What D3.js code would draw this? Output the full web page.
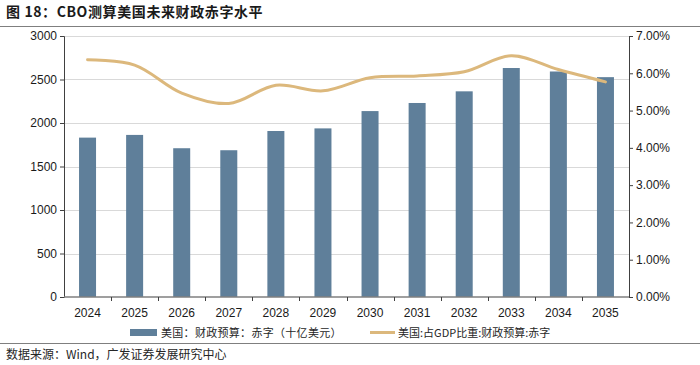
<!DOCTYPE html>
<html><head><meta charset="utf-8">
<script src="https://cdn.jsdelivr.net/npm/d3@7"></script>
<style>
html,body{margin:0;padding:0;background:#fff;}
svg{display:block;}
</style></head>
<body>
<svg id="chart" width="700" height="365"></svg>
<script>
const categories = ["2024","2025","2026","2027","2028","2029","2030","2031","2032","2033","2034","2035"];
const deficitValues = [1832, 1863, 1710, 1687, 1908, 1938, 2137, 2230, 2364, 2632, 2592, 2527];
const gdpShareValues = [6.36, 6.22, 5.47, 5.19, 5.68, 5.53, 5.88, 5.93, 6.04, 6.47, 6.10, 5.77];
const leftTicks = [0, 500, 1000, 1500, 2000, 2500, 3000];
const rightTicks = [0, 1, 2, 3, 4, 5, 6, 7];
const titleText = "图 18：CBO测算美国未来财政赤字水平";
const legendLabels = ["美国：财政预算：赤字（十亿美元）", "美国:占GDP比重:财政预算:赤字"];
const sourceText = "数据来源：Wind，广发证券发展研究中心";

const svg = d3.select("#chart");
const W = 700, H = 365;
const m = {left: 64, right: 71, top: 36, bottom: 68};
const x0 = m.left, x1 = W - m.right, yTop = m.top, yBot = H - m.bottom;

const cjk = "'Noto Sans CJK SC', 'Noto Sans', sans-serif";
const latin = "'Liberation Sans', Arial, sans-serif";

// Title
svg.append("text").attr("x", 6).attr("y", 17)
  .attr("font-family", cjk).attr("font-weight", "bold").attr("font-size", 14)
  .attr("letter-spacing", 0.6)
  .attr("fill", "#1a1a1a").text(titleText);
svg.append("line").attr("x1", 0).attr("x2", W).attr("y1", 26.5).attr("y2", 26.5)
  .attr("stroke", "#7f7f7f").attr("stroke-width", 1);

const x = d3.scaleBand().domain(categories).range([x0, x1]).paddingInner(0).paddingOuter(0);
const yL = d3.scaleLinear().domain([0, 3000]).range([yBot, yTop]);
const yR = d3.scaleLinear().domain([0, 7]).range([yBot, yTop]);

// gridlines
svg.append("g").selectAll("line").data(leftTicks.filter(d => d > 0)).join("line")
  .attr("x1", x0).attr("x2", x1)
  .attr("y1", d => Math.round(yL(d)) + 0.5).attr("y2", d => Math.round(yL(d)) + 0.5)
  .attr("stroke", "#d9d9d9").attr("stroke-width", 1);

// bars
const bw = 17;
svg.append("g").selectAll("rect").data(categories).join("rect")
  .attr("x", d => x(d) + x.bandwidth() / 2 - bw / 2)
  .attr("width", bw)
  .attr("y", (d, i) => yL(deficitValues[i]))
  .attr("height", (d, i) => yBot - yL(deficitValues[i]))
  .attr("fill", "#5f7f9a");

// left axis
const gL = svg.append("g").attr("transform", `translate(${x0},0)`)
  .call(d3.axisLeft(yL).tickValues(leftTicks).tickSize(4).tickPadding(3).tickFormat(d3.format("d")));
gL.select(".domain").attr("stroke", "#404040");
gL.selectAll(".tick line").attr("stroke", "#404040");
gL.selectAll("text").attr("font-family", latin).attr("font-size", 12).attr("fill", "#1a1a1a");

// right axis
const gR = svg.append("g").attr("transform", `translate(${x1},0)`)
  .call(d3.axisRight(yR).tickValues(rightTicks).tickSize(4).tickPadding(3).tickFormat(d => d.toFixed(2) + "%"));
gR.select(".domain").attr("stroke", "#404040");
gR.selectAll(".tick line").attr("stroke", "#404040");
gR.selectAll("text").attr("font-family", latin).attr("font-size", 12).attr("fill", "#1a1a1a");

// x axis
const gX = svg.append("g").attr("transform", `translate(0,${yBot})`);
gX.append("line").attr("x1", x0).attr("x2", x1).attr("y1", 0).attr("y2", 0)
  .attr("stroke", "#7f7f7f").attr("stroke-width", 1.5);
gX.selectAll("line.tk").data(categories.slice(1)).join("line").attr("class", "tk")
  .attr("x1", d => Math.round(x(d)) + 0.5).attr("x2", d => Math.round(x(d)) + 0.5)
  .attr("y1", 0).attr("y2", 4).attr("stroke", "#404040");
gX.selectAll("text").data(categories).join("text")
  .attr("x", d => x(d) + x.bandwidth() / 2).attr("y", 20)
  .attr("text-anchor", "middle").attr("font-family", latin).attr("font-size", 12)
  .attr("fill", "#1a1a1a").text(d => d);

// line
const line = d3.line()
  .x((d, i) => x(categories[i]) + x.bandwidth() / 2)
  .y(d => yR(d))
  .curve(d3.curveCatmullRom.alpha(0.5));
svg.append("path").datum(gdpShareValues).attr("d", line)
  .attr("fill", "none").attr("stroke", "#dcb87c").attr("stroke-width", 3)
  .attr("stroke-linecap", "round");

// legend
const lg = svg.append("g");
lg.append("rect").attr("x", 130).attr("y", 329).attr("width", 27).attr("height", 7).attr("fill", "#5f7f9a");
lg.append("text").attr("x", 161).attr("y", 337).attr("font-family", cjk).attr("font-size", 11)
  .attr("letter-spacing", 0.3)
  .attr("fill", "#262626").text(legendLabels[0]);
lg.append("line").attr("x1", 370).attr("x2", 395).attr("y1", 332.5).attr("y2", 332.5)
  .attr("stroke", "#dcb87c").attr("stroke-width", 3);
lg.append("text").attr("x", 398).attr("y", 337).attr("font-family", cjk).attr("font-size", 11)
  .attr("fill", "#262626").text(legendLabels[1]);

// footer
svg.append("line").attr("x1", 0).attr("x2", W).attr("y1", 343.5).attr("y2", 343.5)
  .attr("stroke", "#7f7f7f").attr("stroke-width", 1);
svg.append("text").attr("x", 6).attr("y", 359).attr("font-family", cjk).attr("font-size", 12)
  .attr("fill", "#262626").text(sourceText);
</script>
</body></html>
